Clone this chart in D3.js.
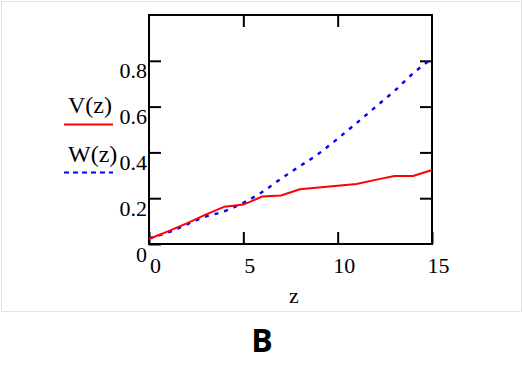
<!DOCTYPE html>
<html>
<head>
<meta charset="utf-8">
<script src="https://cdn.jsdelivr.net/npm/d3@7"></script>
<style>
  body { margin: 0; background: #fff; }
  svg text { font-family: "Liberation Serif", "Times New Roman", serif; fill: #000; }
  .tick line { stroke: #000; stroke-width: 2; }
  .domain { display: none; }
</style>
</head>
<body>
<div id="chart"></div>
<script>
var zValues = d3.range(16);
var vValues = [0.022, 0.055, 0.09, 0.128, 0.163, 0.172, 0.207, 0.212, 0.239, 0.247, 0.254, 0.262, 0.28, 0.297, 0.297, 0.323];
var wValues = [0.025, 0.05, 0.085, 0.12, 0.143, 0.18, 0.227, 0.285, 0.34, 0.395, 0.46, 0.528, 0.598, 0.668, 0.745, 0.81];
var yTicks = [0, 0.2, 0.4, 0.6, 0.8];
var xTicks = [0, 5, 10, 15];
var legendNames = ["V(z)", "W(z)"];

var width = 524, height = 367;
var pLeft = 149, pRight = 432, pTop = 15, pBottom = 244;

var svg = d3.select("#chart").append("svg")
    .attr("width", width)
    .attr("height", height);

// outer light frame
svg.append("rect")
    .attr("x", 1.5).attr("y", 1.5)
    .attr("width", 520).attr("height", 310)
    .attr("fill", "none")
    .attr("stroke", "#e2e2e2");

var x = d3.scaleLinear().domain([0, 15]).range([pLeft, pRight]);
var y = d3.scaleLinear().domain([0, 1]).range([pBottom, pTop]);

// axes with inward ticks
var yAxisL = svg.append("g")
    .attr("transform", "translate(" + pLeft + ",0)")
    .call(d3.axisLeft(y).tickValues(yTicks).tickSize(-12).tickFormat(function(d){ return d === 0 ? "0" : d3.format(".1f")(d); }));
yAxisL.selectAll("text")
    .attr("x", -2)
    .attr("dy", "0.55em")
    .attr("y", 5)
    .style("font-size", "22px")
    .style("font-family", "'Liberation Serif', serif");

svg.append("g")
    .attr("transform", "translate(" + pRight + ",0)")
    .call(d3.axisRight(y).tickValues(yTicks.slice(1)).tickSize(-12).tickFormat(""));

var xAxisB = svg.append("g")
    .attr("transform", "translate(0," + pBottom + ")")
    .call(d3.axisBottom(x).tickValues(xTicks).tickSize(-12));
xAxisB.selectAll("text")
    .attr("x", 6)
    .attr("y", 12)
    .attr("dy", "0.75em")
    .style("font-size", "22px")
    .style("font-family", "'Liberation Serif', serif");

svg.append("g")
    .attr("transform", "translate(0," + pTop + ")")
    .call(d3.axisTop(x).tickValues([5, 10]).tickSize(-12).tickFormat(""));

// plot frame
svg.append("rect")
    .attr("x", pLeft).attr("y", pTop)
    .attr("width", pRight - pLeft).attr("height", pBottom - pTop)
    .attr("fill", "none")
    .attr("stroke", "#000")
    .attr("stroke-width", 2);

var line = d3.line()
    .x(function(d, i) { return x(zValues[i]); })
    .y(function(d) { return y(d); });

svg.append("path")
    .datum(wValues)
    .attr("d", line.curve(d3.curveMonotoneX))
    .attr("fill", "none")
    .attr("stroke", "#0000ff")
    .attr("stroke-width", 2.4)
    .attr("stroke-dasharray", "4,6");

svg.append("path")
    .datum(vValues)
    .attr("d", line.curve(d3.curveLinear))
    .attr("fill", "none")
    .attr("stroke", "#ff0000")
    .attr("stroke-width", 2);

// axis title
svg.append("text")
    .attr("x", 294).attr("y", 303)
    .attr("text-anchor", "middle")
    .style("font-size", "22px")
    .text("z");

// legend
svg.append("text").attr("x", 68).attr("y", 113).style("font-size", "24px").text(legendNames[0]);
svg.append("line")
    .attr("x1", 64).attr("x2", 113).attr("y1", 124.5).attr("y2", 124.5)
    .attr("stroke", "#ff0000").attr("stroke-width", 2);
svg.append("text").attr("x", 68).attr("y", 162).style("font-size", "24px").text(legendNames[1]);
svg.append("line")
    .attr("x1", 64).attr("x2", 113).attr("y1", 172.5).attr("y2", 172.5)
    .attr("stroke", "#0000ff").attr("stroke-width", 2)
    .attr("stroke-dasharray", "5,4");

// panel letter
svg.append("text")
    .attr("x", 262).attr("y", 352)
    .attr("text-anchor", "middle")
    .style("font-family", "'Open Sans', sans-serif")
    .style("font-weight", "bold")
    .style("font-size", "32px")
    .text("B");
</script>
</body>
</html>
